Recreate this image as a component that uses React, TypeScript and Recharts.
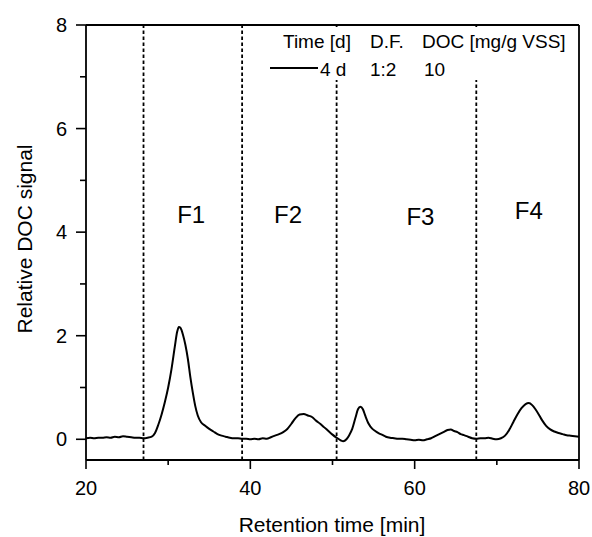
import React from "react";
import { LineChart, Line, XAxis, YAxis, ReferenceLine, ReferenceDot, Legend, Label } from "recharts";

const retentionTime = [
  20, 20.5, 21, 21.5, 22, 22.5, 23, 23.5, 24, 24.5, 25, 25.5, 26, 26.5, 27, 27.5, 28, 28.4, 28.8, 29.2,
  29.6, 30, 30.4, 30.8, 31.1, 31.3, 31.5, 31.8, 32.1, 32.4, 32.7, 33, 33.3, 33.6, 34, 34.5, 35, 35.5, 36, 36.5,
  37, 37.5, 38, 38.5, 39, 39.5, 40, 40.5, 41, 41.5, 42, 42.5, 43, 43.5, 44, 44.5, 45, 45.5, 46, 46.5,
  47, 47.5, 48, 48.5, 49, 49.5, 50, 50.5, 51, 51.3, 51.7, 52, 52.4, 52.8, 53.1, 53.4, 53.7, 54, 54.4, 54.8,
  55.2, 55.6, 56, 56.5, 57, 57.5, 58, 58.5, 59, 59.5, 60, 60.5, 61, 61.5, 62, 62.5, 63, 63.5, 64, 64.4,
  64.8, 65.2, 65.6, 66, 66.5, 67, 67.5, 68, 68.5, 69, 69.5, 70, 70.5, 71, 71.5, 72, 72.5, 73, 73.5, 73.9,
  74.3, 74.7, 75.1, 75.5, 76, 76.5, 77, 77.5, 78, 78.5, 79, 79.5, 80,
];

const docSignal = [
  0.02, 0.03, 0.02, 0.03, 0.03, 0.04, 0.03, 0.05, 0.04, 0.06, 0.05, 0.04, 0.03, 0.03, 0.02, 0.03, 0.05, 0.12, 0.28, 0.48,
  0.72, 1.0, 1.35, 1.78, 2.08, 2.17, 2.15, 2.02, 1.82, 1.55, 1.2, 0.9, 0.64, 0.46, 0.33, 0.26, 0.2, 0.15, 0.1, 0.07,
  0.05, 0.03, 0.02, 0.02, 0.01, 0.01, 0.0, 0.01, 0.0, 0.02, 0.01, 0.04, 0.07, 0.1, 0.14, 0.2, 0.3, 0.41, 0.48, 0.49,
  0.46, 0.43, 0.36, 0.3, 0.23, 0.16, 0.09, 0.03, -0.02, -0.04, 0.0, 0.07, 0.2, 0.42, 0.58, 0.63, 0.58, 0.45, 0.3, 0.21,
  0.16, 0.12, 0.09, 0.05, 0.03, 0.02, 0.01, 0.01, 0.0, -0.01, -0.02, -0.01, -0.02, 0.0, 0.02, 0.06, 0.1, 0.14, 0.18, 0.19,
  0.16, 0.14, 0.1, 0.08, 0.05, 0.02, 0.01, 0.02, 0.02, 0.03, 0.01, 0.0, 0.02, 0.07, 0.18, 0.33, 0.48, 0.6, 0.68, 0.7,
  0.66, 0.58, 0.48, 0.37, 0.26, 0.19, 0.15, 0.12, 0.1, 0.08, 0.07, 0.06, 0.05,
];

const fractionBounds = [27, 39, 50.5, 67.5];
const fractionNames = ["F1", "F2", "F3", "F4"];
const fractionLabelX = [32.8, 44.6, 60.7, 73.9];
const fractionLabelY = [4.35, 4.35, 4.3, 4.42];

const xTicks = [20, 30, 40, 50, 60, 70, 80];
const yTicks = [0, 1, 2, 3, 4, 5, 6, 7, 8];

const legendHeader = ["Time [d]", "D.F.", "DOC [mg/g VSS]"];
const legendValues = ["4 d", "1:2", "10"];

const FONT = '"Liberation Sans", Arial, sans-serif';

const data = retentionTime.map((t, i) => ({ t, doc: docSignal[i] }));

function XTick({ x, y, payload }: any) {
  const major = payload.value % 20 === 0;
  return (
    <g>
      <line x1={x} x2={x} y1={y} y2={y + (major ? 9 : 5)} stroke="#000" strokeWidth={1.6} />
      {major && (
        <text x={x} y={y + 35} textAnchor="middle" fontSize={20} fontFamily={FONT} fill="#000">
          {payload.value}
        </text>
      )}
    </g>
  );
}

function YTick({ x, y, payload }: any) {
  const major = payload.value % 2 === 0;
  return (
    <g>
      <line x1={x} x2={x - (major ? 10 : 6)} y1={y} y2={y} stroke="#000" strokeWidth={1.6} />
      {major && (
        <text x={x - 19} y={y} dy="0.36em" textAnchor="end" fontSize={20} fontFamily={FONT} fill="#000">
          {payload.value}
        </text>
      )}
    </g>
  );
}

// legend box sits over the top right of the plot and hides the dashed lines behind it
function LegendBox() {
  const headX = [283, 370, 422];
  const valX = [320, 370, 424];
  return (
    <svg width={592} height={90} style={{ display: "block" }}>
      <rect x={262} y={27} width={314} height={53} fill="#fff" />
      {legendHeader.map((h, i) => (
        <text key={h} x={headX[i]} y={48} fontSize={19} fontFamily={FONT} fill="#000">
          {h}
        </text>
      ))}
      <line x1={270} x2={318} y1={68} y2={68} stroke="#000" strokeWidth={2} />
      {legendValues.map((v, i) => (
        <text key={v} x={valX[i]} y={76} fontSize={19} fontFamily={FONT} fill="#000">
          {v}
        </text>
      ))}
    </svg>
  );
}

export default function App() {
  return (
    <div style={{ position: "absolute", left: 0, top: 0, width: 592, height: 537, background: "#fff" }}>
      <LineChart width={592} height={537} data={data} margin={{ top: 25, right: 13, bottom: 0, left: 0 }}>
        <XAxis
          dataKey="t"
          type="number"
          domain={[20, 80]}
          ticks={xTicks}
          interval={0}
          height={77}
          tickSize={0}
          tickMargin={0}
          tickLine={false}
          tick={<XTick />}
          axisLine={{ stroke: "#000", strokeWidth: 1.8 }}
        >
          <Label
            content={() => (
              <text x={332} y={532} textAnchor="middle" fontSize={21} fontFamily={FONT} fill="#000">
                Retention time [min]
              </text>
            )}
          />
        </XAxis>
        <YAxis
          type="number"
          domain={[-0.4, 8]}
          ticks={yTicks}
          interval={0}
          width={86}
          tickSize={0}
          tickMargin={0}
          tickLine={false}
          tick={<YTick />}
          axisLine={{ stroke: "#000", strokeWidth: 1.8 }}
        >
          <Label
            content={() => (
              <text
                x={32}
                y={239}
                transform="rotate(-90 32 239)"
                textAnchor="middle"
                fontSize={21}
                fontFamily={FONT}
                fill="#000"
              >
                Relative DOC signal
              </text>
            )}
          />
        </YAxis>
        <ReferenceLine y={8} stroke="#000" strokeWidth={1.8} />
        <ReferenceLine x={80} stroke="#000" strokeWidth={1.8} />
        {fractionBounds.map((b) => (
          <ReferenceLine key={b} x={b} stroke="#000" strokeWidth={1.8} strokeDasharray="3.5 2.5" />
        ))}
        {fractionNames.map((n, i) => (
          <ReferenceDot
            key={n}
            x={fractionLabelX[i]}
            y={fractionLabelY[i]}
            r={0}
            stroke="none"
            fill="none"
            label={{ value: n, position: "center", fontSize: 24, fontFamily: FONT, fill: "#000" }}
          />
        ))}
        <Legend
          layout="horizontal"
          verticalAlign="middle"
          align="center"
          wrapperStyle={{ left: 0, top: 0, width: 592, height: 90, pointerEvents: "none" }}
          content={() => <LegendBox />}
        />
        <Line
          type="monotone"
          dataKey="doc"
          stroke="#000"
          strokeWidth={2}
          dot={false}
          isAnimationActive={false}
        />
      </LineChart>
    </div>
  );
}
